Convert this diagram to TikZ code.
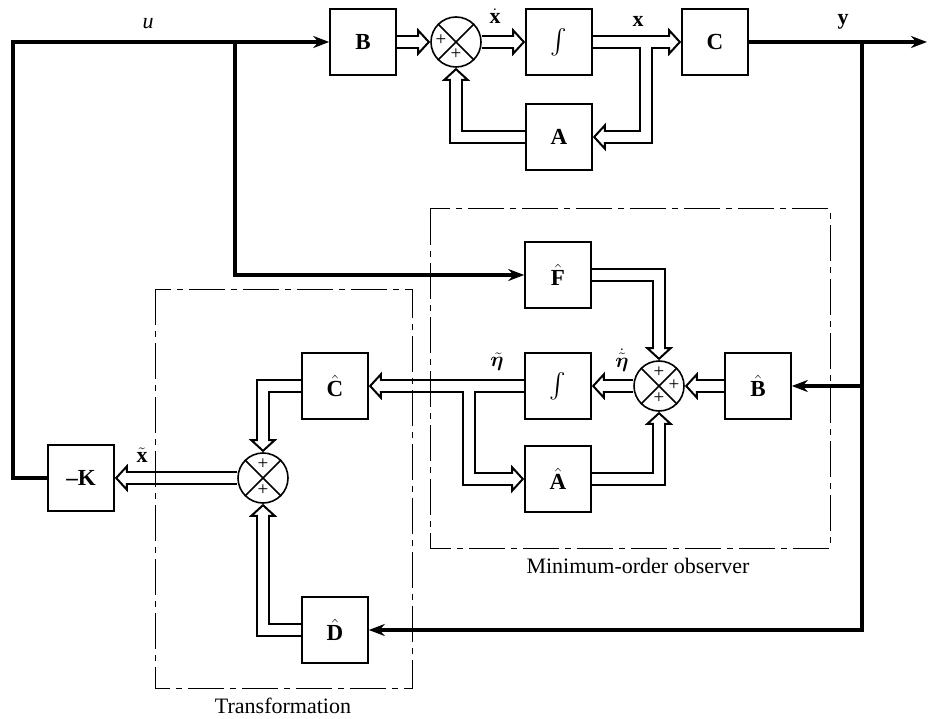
\documentclass[tikz,border=0pt]{standalone}
\usepackage{amsmath}
\usepackage{bm}
\usepackage{fontspec}
\setmainfont{Liberation Serif}
\usetikzlibrary{arrows.meta}
\pgfdeclarelayer{dout}
\pgfdeclarelayer{dtip}
\pgfdeclarelayer{din}
\pgfsetlayers{dout,dtip,din,main}
\tikzset{
  blk/.style={draw, line width=1.6pt, fill=white, minimum width=66pt, minimum height=66pt, inner sep=0pt, font=\fontsize{23}{26}\selectfont\bfseries},
  sumc/.style={draw, circle, line width=1.6pt, minimum size=50pt, inner sep=0pt, fill=white},
  sig/.style={line width=3.5pt, line join=miter, -{Stealth[length=16pt, width=12pt]}},
  dblout/.style={line width=14pt, line join=miter, shorten >=12pt},
  dbltip/.style={line width=2pt, line join=miter, -{Triangle[open, length=13pt, width=28pt]}},
  dblin/.style={line width=10pt, white, line join=miter, shorten >=10pt},
  grp/.style={line width=1pt, dash pattern=on 36pt off 6pt on 6pt off 6pt},
  lbl/.style={font=\fontsize{22}{26}\selectfont, inner sep=1pt},
  pl/.style={font=\fontsize{19}{20}\selectfont, inner sep=0pt}
}
\newcommand{\dbl}[1]{%
  \begin{pgfonlayer}{dout}\draw[dblout] #1;\end{pgfonlayer}%
  \begin{pgfonlayer}{dtip}\draw[dbltip] #1;\end{pgfonlayer}%
  \begin{pgfonlayer}{din}\draw[dblin] #1;\end{pgfonlayer}}
\newcommand{\sumx}[1]{%
  \draw[line width=1.6pt] (#1.north west) -- (#1.south east) (#1.north east) -- (#1.south west);}
\newcommand{\hb}[1]{$\hat{\textbf{#1}}$}
\begin{document}
\begin{tikzpicture}[x=1pt,y=-1pt]
\useasboundingbox (0,0) rectangle (939,719);
% group boxes
\draw[grp] (430,209) rectangle (830,548);
\draw[grp] (155,289) rectangle (412,688);
\node[lbl] (tobs) at (638,566) {Minimum-order observer};
\node[lbl] (ttr) at (283,706) {Transformation};
% plant
\node[blk] (B) at (363,42) {B};
\node[sumc] (S1) at (456,42) {};
\node[blk] (I1) at (559,42) {$\int$};
\node[blk] (C) at (715,42) {C};
\node[blk] (A) at (559,137) {A};
% observer
\node[blk] (F) at (558,275) {\hb{F}};
\node[blk] (I2) at (558,386) {$\int$};
\node[sumc] (S2) at (659,386) {};
\node[blk] (Bh) at (758,386) {\hb{B}};
\node[blk] (Ah) at (558,479) {\hb{A}};
% transformation
\node[blk] (Ch) at (335,386) {\hb{C}};
\node[sumc] (S3) at (263,478) {};
\node[blk] (Dh) at (335,630) {\hb{D}};
\node[blk] (K) at (81,478) {\textendash K};
% crosses and signs
\sumx{S1}\sumx{S2}\sumx{S3}
\node[pl] (p1a) at ([shift={(-15,-2)}]S1.center) {+};
\node[pl] (p1b) at ([shift={(0,12)}]S1.center) {+};
\node[pl] (p2a) at ([shift={(0,-14)}]S2.center) {+};
\node[pl] (p2b) at ([shift={(15,-1)}]S2.center) {+};
\node[pl] (p2c) at ([shift={(0,12)}]S2.center) {+};
\node[pl] (p3a) at ([shift={(0,-14)}]S3.center) {+};
\node[pl] (p3b) at ([shift={(0,12)}]S3.center) {+};
% coordinates
\coordinate (uL) at (13,42);
\coordinate (uB) at (235,42);
\coordinate (yB) at (862,42);
\coordinate (yout) at (927,42);
\coordinate (xB) at (646,42);
\coordinate (eB) at (469,386);
% single signal lines
\draw[sig] (K.west) -| (uL) -- (B.west);
\draw[sig] (uB) |- (F.west);
\draw[sig] (C.east) -- (yout);
\draw[sig] (yB) |- (Dh.east);
\draw[sig] (yB |- Bh.east) -- (Bh.east);
% double (vector) lines
\dbl{(B.east) -- (S1.west)}
\dbl{(S1.east) -- (I1.west)}
\dbl{(I1.east) -- (C.west)}
\dbl{(xB) |- (A.east)}
\dbl{(A.west) -| (S1.south)}
\dbl{(F.east) -| (S2.north)}
\dbl{(Bh.west) -- (S2.east)}
\dbl{(S2.west) -- (I2.east)}
\dbl{(I2.west) -- (Ch.east)}
\dbl{(eB) |- (Ah.west)}
\dbl{(Ah.east) -| (S2.south)}
\dbl{(Ch.west) -| (S3.north)}
\dbl{(Dh.west) -| (S3.south)}
\dbl{(S3.west) -- (K.east)}
% labels
\node[lbl] (lu) at (148,24) {\textit{u}};
\node[lbl] (lxd) at (495,16) {$\dot{\mathbf{x}}$};
\node[lbl] (lx) at (638,21) {$\mathbf{x}$};
\node[lbl] (ly) at (843,22) {$\mathbf{y}$};
\node[lbl] (led) at (622,360) {$\dot{\tilde{\bm{\eta}}}$};
\node[lbl] (le) at (497,362) {$\tilde{\bm{\eta}}$};
\node[lbl] (lxt) at (142,455) {$\tilde{\mathbf{x}}$};
\end{tikzpicture}
\end{document}
